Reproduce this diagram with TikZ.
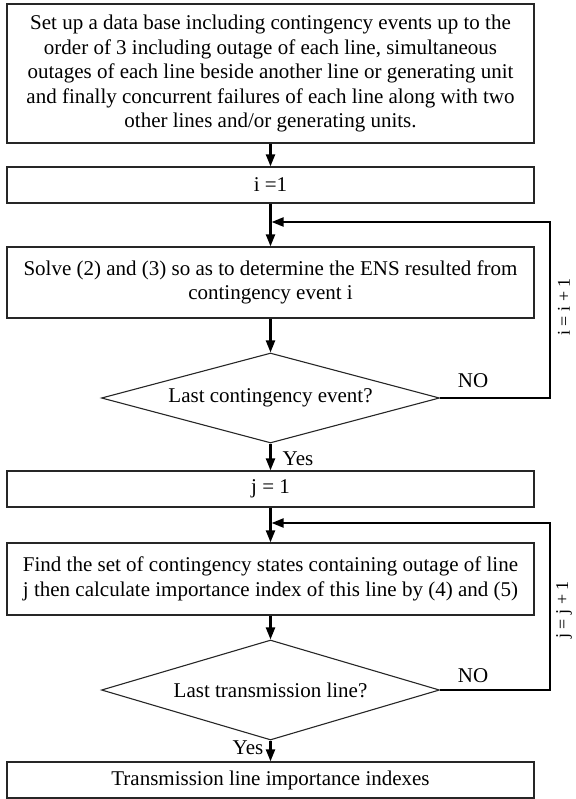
\documentclass[tikz,border=0pt]{standalone}
\usepackage{fontspec}
\setmainfont{Liberation Serif}
\usetikzlibrary{shapes.geometric,arrows.meta}

\begin{document}
\begin{tikzpicture}[x=1pt, y=-1pt,
	stepbox/.style={draw=black!85, line width=1.3pt, minimum width=527pt, align=center, font=\fontsize{21}{24.5}\selectfont},
	testbox/.style={draw=black!85, line width=1.1pt, diamond, aspect=3.7, minimum width=338pt, minimum height=90pt, inner sep=0pt, font=\fontsize{21}{24}\selectfont},
	flow/.style={line width=2.2pt, -{Triangle[length=12pt,width=9pt]}},
	labeltext/.style={inner sep=0pt, font=\fontsize{21}{24}\selectfont}]

\useasboundingbox (0,0) rectangle (575,799);

% process boxes and tests
\node[stepbox, minimum height=139pt] (setup) at (270.5,73.5) {Set up a data base including contingency events up to the\\ order of 3 including outage of each line, simultaneous\\ outages of each line beside another line or generating unit\\ and finally concurrent failures of each line along with two\\ other lines and/or generating units.};
\node[stepbox, minimum height=36pt] (init_i) at (270.5,185) {i =1};
\node[stepbox, minimum height=71pt] (solve) at (270.5,282.5) {Solve (2) and (3) so as to determine the ENS resulted from\\ contingency event i};
\node[testbox] (test_i) at (270.5,398) {Last contingency event?};
\node[stepbox, minimum height=36pt] (init_j) at (270.5,489) {j = 1};
\node[stepbox, minimum height=72pt] (index) at (270.5,579) {Find the set of contingency states containing outage of line\\ j then calculate importance index of this line by (4) and (5)};
\node[testbox, minimum height=100pt] (test_j) at (270.5,690) {Last transmission line?};
\node[stepbox, minimum height=36pt] (result) at (270.5,780) {Transmission line importance indexes};

% loop points
\coordinate (loop_i) at (271.6,222);
\coordinate (back_i) at (550,222);
\coordinate (loop_j) at (271.6,523);
\coordinate (back_j) at (550,523);

\draw[flow] (setup) -- (init_i);
\draw[flow] (init_i) -- (solve);
\draw[flow] (solve) -- (test_i);
\draw[flow] (test_i) -- (init_j);
\draw[flow] (init_j) -- (index);
\draw[flow] (index) -- (test_j);
\draw[flow] (test_j) -- (result);
\draw[flow] (test_i.east) -| (back_i) -- (loop_i);
\draw[flow] (test_j.east) -| (back_j) -- (loop_j);

% labels
\node[labeltext] (no_i) at (473,381) {NO};
\node[labeltext] (yes_i) at (298,459) {Yes};
\node[labeltext] (no_j) at (473,676) {NO};
\node[labeltext] (yes_j) at (248,748) {Yes};
\node[labeltext, rotate=90, font=\fontsize{18}{22}\selectfont] (inc_i) at (564,307) {i = i + 1};
\node[labeltext, rotate=90, font=\fontsize{18}{22}\selectfont] (inc_j) at (564,610) {j = j + 1};

\end{tikzpicture}
\end{document}
